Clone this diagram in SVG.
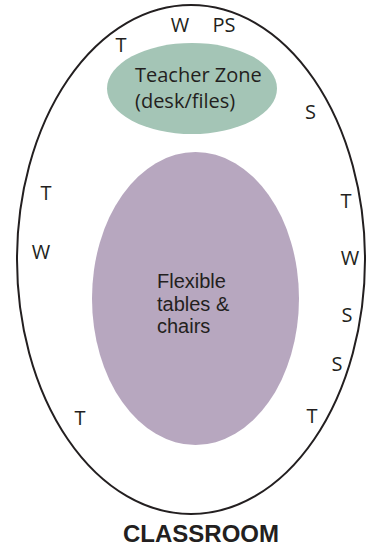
<svg xmlns="http://www.w3.org/2000/svg" width="373" height="548" viewBox="0 0 373 548">
  <style>
    .lbl { font-family: "Open Sans", "Liberation Sans", sans-serif; font-size: 20px; fill: #231f20; }
    .tight { font-family: "Liberation Sans", Arial, sans-serif; font-size: 20px; fill: #231f20; }
    .mid { text-anchor: middle; }
    .title { font-family: "Liberation Sans", Arial, sans-serif; font-size: 24px; font-weight: bold; fill: #231f20; text-anchor: middle; }
  </style>
  <rect width="373" height="548" fill="#ffffff"/>

  <!-- room outline -->
  <g id="room">
    <ellipse cx="191" cy="259.5" rx="174" ry="254.5" fill="none" stroke="#231f20" stroke-width="2"/>
  </g>

  <!-- teacher zone -->
  <g id="teacher-zone">
    <ellipse cx="192" cy="88.5" rx="85" ry="45.5" fill="#a4c5b6"/>
    <text class="lbl" x="135" y="82">Teacher Zone</text>
    <text class="lbl" x="135" y="108">(desk/files)</text>
  </g>

  <!-- flexible seating -->
  <g id="flexible-seating">
    <ellipse cx="195.5" cy="298.5" rx="103.5" ry="146.5" fill="#b7a7bf"/>
    <text class="tight" x="157" y="288">Flexible</text>
    <text class="tight" x="157" y="310.5">tables &amp;</text>
    <text class="tight" x="157" y="333">chairs</text>
  </g>

  <!-- wall markers -->
  <g id="wall-markers">
    <text class="lbl mid" x="121" y="52">T</text>
    <text class="lbl mid" x="180" y="32">W</text>
    <text class="lbl mid" x="224" y="32">PS</text>
    <text class="lbl mid" x="310.5" y="119">S</text>
    <text class="lbl mid" x="46" y="200">T</text>
    <text class="lbl mid" x="41" y="259">W</text>
    <text class="lbl mid" x="346" y="208">T</text>
    <text class="lbl mid" x="350" y="265">W</text>
    <text class="lbl mid" x="347" y="322">S</text>
    <text class="lbl mid" x="337" y="371">S</text>
    <text class="lbl mid" x="80" y="425">T</text>
    <text class="lbl mid" x="312" y="423">T</text>
  </g>

  <g id="connectors"/>

  <text class="title" x="201" y="542">CLASSROOM</text>
</svg>
